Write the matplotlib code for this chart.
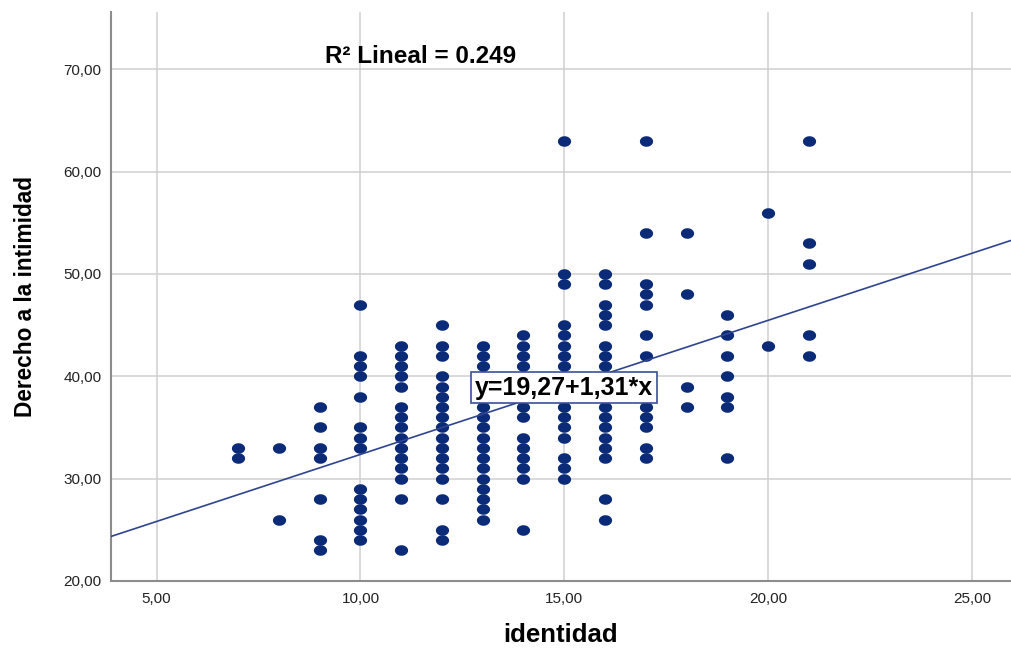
import numpy as np
import matplotlib
matplotlib.use('Agg')
import matplotlib.pyplot as plt

plt.rcParams['font.family'] = ['Liberation Sans', 'DejaVu Sans']

# identidad (x) -> values of Derecho a la intimidad (y)
id_values = [7, 8, 9, 10, 11, 12, 13, 14, 15, 16, 17, 18, 19, 20, 21]
y07 = [33, 32]
y08 = [33, 26]
y09 = [37, 35, 33, 32, 28, 24, 23]
y10 = [47, 42, 41, 40, 38, 35, 34, 33, 29, 28, 27, 26, 25, 24]
y11 = [43, 42, 41, 40, 39, 37, 36, 35, 34, 33, 32, 31, 30, 28, 23]
y12 = [45, 43, 42, 40, 39, 38, 37, 36, 35, 34, 33, 32, 31, 30, 28, 25, 24]
y13 = [43, 42, 41, 40, 39, 38, 37, 36, 35, 34, 33, 32, 31, 30, 29, 28, 27, 26]
y14 = [44, 43, 42, 41, 40, 39, 38, 37, 36, 34, 33, 32, 31, 30, 25]
y15 = [63, 50, 49, 45, 44, 43, 42, 41, 40, 39, 38, 37, 36, 35, 34, 32, 31, 30]
y16 = [50, 49, 47, 46, 45, 43, 42, 41, 40, 39, 38, 37, 36, 35, 34, 33, 32, 28, 26]
y17 = [63, 54, 49, 48, 47, 44, 42, 37, 36, 35, 33, 32]
y18 = [54, 48, 39, 37]
y19 = [46, 44, 42, 40, 38, 37, 32]
y20 = [56, 43]
y21 = [63, 53, 51, 44, 42]
columns = [y07, y08, y09, y10, y11, y12, y13, y14, y15, y16, y17, y18, y19, y20, y21]

# fit line
intercept = 19.27
slope = 1.31
r2 = 0.249

x_ticks = [5, 10, 15, 20, 25]
y_ticks = [20, 30, 40, 50, 60, 70]

X = []
Y = []
for xv, vals in zip(id_values, columns):
    X += [xv] * len(vals)
    Y += vals

# SPSS dots are a bit wider than tall
t = np.linspace(0, 2 * np.pi, 60)
dot = np.column_stack([np.cos(t), 0.8 * np.sin(t)])

fig = plt.figure(figsize=(10.11, 6.5), dpi=100)
ax = fig.add_axes([111 / 1011, 69 / 650, 900 / 1011, 569 / 650])

ax.set_xlim(3.88, 25.96)
ax.set_ylim(20, 75.6)

ax.plot(X, Y, ls='none', marker=dot, ms=9.5, color='#0b2a78', mec='none', zorder=3)

xs = np.array(ax.get_xlim())
ax.plot(xs, intercept + slope * xs, color='#2f4490', lw=1.2, zorder=4)

eq = ('y=%.2f+%.2f*x' % (intercept, slope)).replace('.', ',')
ax.text(15.0, 38.9, eq, ha='center', va='center', fontsize=18, fontweight='bold',
        bbox=dict(boxstyle='square,pad=0.15', fc='white', ec='#3b4f99', lw=1.2), zorder=5)
ax.text(9.13, 71.3, 'R\u00b2 Lineal = %.3f' % r2, ha='left', va='center',
        fontsize=17.5, fontweight='bold', zorder=5)

ax.set_xticks(x_ticks)
ax.set_xticklabels([('%.2f' % v).replace('.', ',') for v in x_ticks])
ax.set_yticks(y_ticks)
ax.set_yticklabels([('%.2f' % v).replace('.', ',') for v in y_ticks])
ax.tick_params(length=0, labelsize=11, colors='#222222')
ax.tick_params(axis='x', pad=8)
ax.tick_params(axis='y', pad=7)

ax.grid(True, color='#cfcfcf', lw=1.1)
ax.set_axisbelow(True)
for s in ['top', 'right']:
    ax.spines[s].set_visible(False)
for s in ['left', 'bottom']:
    ax.spines[s].set_color('#8c8c8c')
    ax.spines[s].set_linewidth(1.5)

ax.set_xlabel('identidad', fontsize=18.5, fontweight='bold', labelpad=12)
ax.set_ylabel('Derecho a la intimidad', fontsize=16.3, fontweight='bold', labelpad=19)

fig.savefig('out.png', dpi=100)
